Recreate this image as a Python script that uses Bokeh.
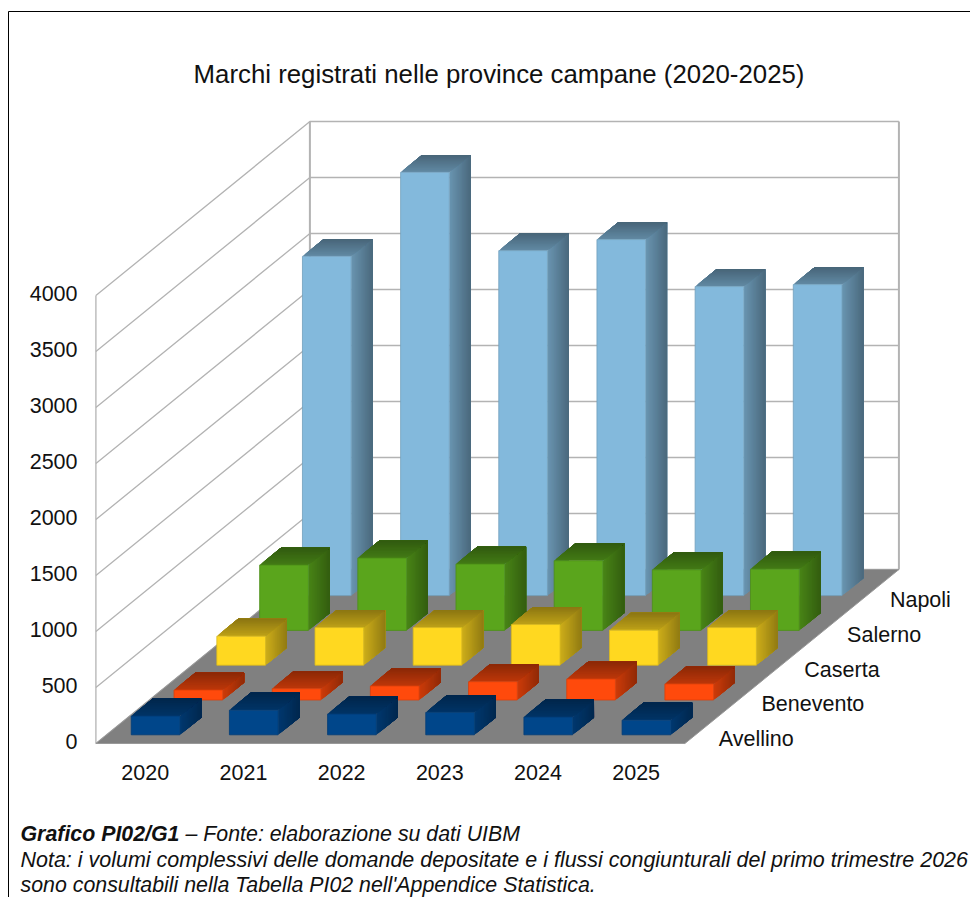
from bokeh.plotting import figure
from bokeh.embed import file_html
from bokeh.resources import INLINE
from bokeh.core.properties import value as fv

title = "Marchi registrati nelle province campane (2020-2025)"
years = ["2020", "2021", "2022", "2023", "2024", "2025"]
provinces = ["Avellino", "Benevento", "Caserta", "Salerno", "Napoli"]
avellino = [167, 220, 185, 200, 158, 131]
benevento = [89, 101, 125, 163, 187, 143]
caserta = [259, 336, 336, 363, 313, 336]
salerno = [583, 646, 592, 622, 541, 547]
napoli = [3029, 3779, 3080, 3179, 2759, 2777]
series = [avellino, benevento, caserta, salerno, napoli]
colors = [(0, 70, 138), (255, 74, 12), (255, 216, 32), (90, 165, 28), (131, 185, 220)]
ticks = [0, 500, 1000, 1500, 2000, 2500, 3000, 3500, 4000]

# oblique projection: category, depth, value -> drawing plane
X0, Y0, CW, DX, DY, VS = 95.4, 743.0, 98.17, 42.8, 34.8, 0.112
def px(c, d): return X0 + CW * c + DX * d
def py(d, v): return Y0 - DY * d - VS * v

def hexc(c, k):
    return "#%02x%02x%02x" % tuple(int(round(x * k)) for x in c)

p = figure(width=970, height=897, x_range=(0, 970), y_range=(897, 0),
           output_backend="svg", toolbar_location=None, min_border=0,
           outline_line_color=None, background_fill_color="white", border_fill_color="white")
p.axis.visible = False
p.grid.visible = False
GRID = "#b3b3b3"
ND = len(series)
NC = len(years)
VMAX = ticks[-1]

# frame
p.line([8, 8, 970], [897, 11, 11], line_color="#000000", line_width=1)

# walls
for t in ticks:
    p.line([px(0, 0), px(0, ND), px(NC, ND)], [py(0, t), py(ND, t), py(ND, t)], line_color=GRID, line_width=1.3)
p.line([px(0, 0), px(0, 0)], [py(0, 0), py(0, VMAX)], line_color=GRID, line_width=1.3)
p.line([px(0, ND), px(0, ND)], [py(ND, 0), py(ND, VMAX)], line_color=GRID, line_width=2)
p.line([px(NC, ND), px(NC, ND)], [py(ND, 0), py(ND, VMAX)], line_color=GRID, line_width=2)

# floor
p.patch([px(0, 0), px(NC, 0), px(NC, ND), px(0, ND)], [py(0, 0), py(0, 0), py(ND, 0), py(ND, 0)],
        fill_color="#808080", line_color="#999999", line_width=1)

# bars, back to front
BX, BW, D0, DW, STR = 0.251, 0.496, 0.25, 0.5, 20
for j in range(ND - 1, -1, -1):
    col = colors[j]
    for i in range(NC):
        v = series[j][i]
        l = i + BX
        r = l + BW
        df = j + D0
        db = df + DW
        sx, sy, sc, tx, ty, tc = [], [], [], [], [], []
        for s in range(STR):
            a = s / STR
            da = df + DW * a
            # each strip runs to the back edge, the next one overlays it: no seams
            sx.append([px(r, da), px(r, db), px(r, db), px(r, da)])
            sy.append([py(da, 0), py(db, 0), py(db, v), py(da, v)])
            sc.append(hexc(col, 0.80 - 0.24 * a))
            tx.append([px(l, da), px(r, da), px(r, db), px(l, db)])
            ty.append([py(da, v), py(da, v), py(db, v), py(db, v)])
            tc.append(hexc(col, 0.74 - 0.20 * a))
        p.patches(sx, sy, fill_color=sc, line_color=None)
        p.patches(tx, ty, fill_color=tc, line_color=None)
        p.patch([px(l, df), px(r, df), px(r, df), px(l, df)], [py(df, 0), py(df, 0), py(df, v), py(df, v)],
                fill_color=hexc(col, 1.0), line_color=hexc(col, 0.86), line_width=0.8)

TXT = "#111111"
SANS = fv("Liberation Sans")
p.text([498.5], [73.5], text=[title], text_font=SANS, text_font_size="25.8px",
       text_align="center", text_baseline="middle", text_color=TXT)

LAB = "21.5px"
p.text([77] * len(ticks), [py(0, t) - 2.5 for t in ticks], text=[str(t) for t in ticks],
       text_font=SANS, text_font_size=LAB, text_align="right", text_baseline="middle", text_color=TXT)
p.text([px(i + 0.5, 0) + 0.3 for i in range(NC)], [771.5] * NC, text=years, text_font=SANS, text_font_size=LAB,
       text_align="center", text_baseline="middle", text_color=TXT)
p.text([px(NC, j + 0.5) + 12.4 for j in range(ND)], [py(j + 0.5, 0) + 13 for j in range(ND)], text=provinces,
       text_font=SANS, text_font_size=LAB, text_align="left", text_baseline="middle", text_color=TXT)

NF = "21.35px"
p.text([20], [833.5], text=["Grafico PI02/G1"], text_font=SANS, text_font_size=NF, text_font_style="bold italic",
       text_baseline="middle", text_color=TXT)
p.text([185], [833.5], text=["– Fonte: elaborazione su dati UIBM"], text_font=SANS, text_font_size=NF,
       text_font_style="italic", text_baseline="middle", text_color=TXT)
p.text([20], [859], text=["Nota: i volumi complessivi delle domande depositate e i flussi congiunturali del primo trimestre 2026"],
       text_font=SANS, text_font_size="21.47px", text_font_style="italic", text_baseline="middle", text_color=TXT)
p.text([20], [884], text=["sono consultabili nella Tabella PI02 nell'Appendice Statistica."],
       text_font=SANS, text_font_size=NF, text_font_style="italic", text_baseline="middle", text_color=TXT)

open("out.html", "w").write(file_html(p, INLINE))
